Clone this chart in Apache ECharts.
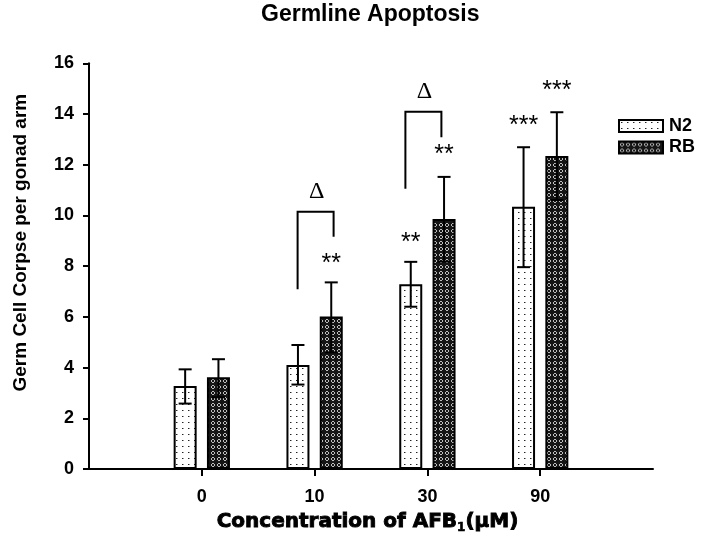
<!DOCTYPE html>
<html><head><meta charset="utf-8">
<script src="https://cdn.jsdelivr.net/npm/echarts@6/dist/echarts.min.js"></script>
<style>html,body{margin:0;padding:0;background:#fff}#c{width:705px;height:548px}</style>
</head><body><div id="c"></div>
<script>
// ---- data ----
const categories = ['0', '10', '30', '90'];
const seriesNames = ['N2', 'RB'];
const n2Values = [3.27, 4.10, 7.29, 10.34];
const rbValues = [3.62, 6.01, 9.86, 12.34];
const n2Low  = [2.58, 3.33, 6.40, 7.96];
const n2High = [3.93, 4.89, 8.17, 12.69];
const rbLow  = [2.83, 4.60, 8.18, 10.61];
const rbHigh = [4.33, 7.36, 11.52, 14.07];
const yTicks = [0, 2, 4, 6, 8, 10, 12, 14, 16];
// significance stars
const starCats   = ['10', '30', '30', '90', '90'];
const starSeries = ['RB', 'N2', 'RB', 'N2', 'RB'];
const starText   = ['**', '**', '**', '***', '***'];
const starY      = [8.31, 9.16, 12.62, 13.77, 15.15];
// delta brackets
const bracketCats     = ['10', '30'];
const bracketTop      = [10.15, 14.09];
const bracketLeftEnd  = [7.09, 11.05];
const bracketRightEnd = [9.16, 13.08];
const deltaY          = [10.94, 14.88];
const deltaText = 'Δ';

// ---- styling ----
const axisCats = [''].concat(categories).concat([' ']);
const BAR_W = 23, BAR_GAP_PX = 10.3;
const OFF = (BAR_W + BAR_GAP_PX) / 2;
const seriesOffset = { N2: -OFF, RB: OFF };
const bracketDx = [[-17, 19], [-22, 14]];

function makeDots() {
  const c = document.createElement('canvas'); c.width = 6; c.height = 6;
  const g = c.getContext('2d');
  g.fillStyle = '#fff'; g.fillRect(0, 0, 6, 6);
  g.fillStyle = '#222'; g.fillRect(2, 2, 1, 1);
  g.fillStyle = '#999'; g.fillRect(3, 2, 1, 1);
  return { image: c, repeat: 'repeat' };
}
function makeHatch() {
  const c = document.createElement('canvas'); c.width = 6; c.height = 6;
  const g = c.getContext('2d');
  g.fillStyle = '#151515'; g.fillRect(0, 0, 6, 6);
  g.fillStyle = '#bdbdbd';
  [[2,1],[3,1],[1,2],[4,2],[1,3],[4,3],[2,4],[3,4]].forEach(p => g.fillRect(p[0], p[1], 1, 1));
  return { image: c, repeat: 'repeat' };
}
const patterns = { N2: makeDots(), RB: makeHatch() };
const barValues = { N2: n2Values, RB: rbValues };
const lows = { N2: n2Low, RB: rbLow };
const highs = { N2: n2High, RB: rbHigh };

const FONT = '"Liberation Sans", Arial, Helvetica, sans-serif';
const LINE = { stroke: '#000', lineWidth: 2 };

function errRender(name) {
  return function (params, api) {
    const idx = api.value(0);
    const lo = api.coord([idx, api.value(1)]);
    const hi = api.coord([idx, api.value(2)]);
    const x = lo[0] + seriesOffset[name];
    const cap = 6.5;
    return { type: 'group', children: [
      { type: 'line', shape: { x1: x, y1: lo[1], x2: x, y2: hi[1] }, style: LINE },
      { type: 'line', shape: { x1: x - cap, y1: hi[1], x2: x + cap, y2: hi[1] }, style: LINE },
      { type: 'line', shape: { x1: x - cap, y1: lo[1], x2: x + cap, y2: lo[1] }, style: LINE }
    ]};
  };
}

const series = [];
seriesNames.forEach(name => {
  series.push({
    name: name, type: 'bar', barWidth: BAR_W, barGap: (BAR_GAP_PX / BAR_W * 100) + '%',
    data: categories.map((c, i) => [c, barValues[name][i]]),
    itemStyle: { color: patterns[name], borderColor: '#000', borderWidth: 2 },
    z: 2, silent: true
  });
});
seriesNames.forEach(name => {
  series.push({
    type: 'custom', name: name + ' err', z: 3, silent: true,
    renderItem: errRender(name),
    encode: { x: 0, y: [1, 2] },
    data: categories.map((c, i) => [c, lows[name][i], highs[name][i]])
  });
});
// stars
series.push({
  type: 'custom', z: 4, silent: true,
  encode: { x: 0, y: 1 },
  data: starCats.map((c, i) => [c, starY[i], i]),
  renderItem: function (params, api) {
    const i = api.value(2);
    const p = api.coord([api.value(0), api.value(1)]);
    return { type: 'text', style: {
      text: starText[i], x: p[0] + seriesOffset[starSeries[i]], y: p[1] + 6,
      align: 'center', verticalAlign: 'middle',
      fontSize: 25, fontFamily: FONT, fill: '#000' } };
  }
});
// brackets + delta
series.push({
  type: 'custom', z: 4, silent: true,
  encode: { x: 0, y: [1, 2, 3, 4] },
  data: bracketCats.map((c, i) => [c, bracketTop[i], bracketLeftEnd[i], bracketRightEnd[i], deltaY[i], i]),
  renderItem: function (params, api) {
    const i = api.value(5);
    const idx = api.value(0);
    const top = api.coord([idx, api.value(1)]);
    const le = api.coord([idx, api.value(2)]);
    const re = api.coord([idx, api.value(3)]);
    const dy = api.coord([idx, api.value(4)]);
    const xl = top[0] + bracketDx[i][0], xr = top[0] + bracketDx[i][1];
    return { type: 'group', children: [
      { type: 'polyline', shape: { points: [[xl, le[1]], [xl, top[1]], [xr, top[1]], [xr, re[1]]] },
        style: { stroke: '#000', lineWidth: 2, fill: null } },
      { type: 'text', style: { text: deltaText, x: (xl + xr) / 2 + 1, y: dy[1],
        align: 'center', verticalAlign: 'middle', fontSize: 24,
        fontFamily: '"Liberation Serif", "Times New Roman", serif', fill: '#000' } }
    ]};
  }
});

const chart = echarts.init(document.getElementById('c'), null, { renderer: 'canvas' });
chart.setOption({
  animation: false,
  backgroundColor: '#fff',
  title: {
    text: 'Germline Apoptosis', left: 261, top: 3, padding: 0,
    textStyle: { fontSize: 23, fontWeight: 'bold', fontFamily: FONT, color: '#000' }
  },
  legend: {
    data: seriesNames.map(n => ({ name: n, icon: 'rect' })),
    orient: 'vertical', left: 618, top: 117, padding: 0,
    itemWidth: 44, itemHeight: 12, itemGap: 3.5,
    textStyle: { fontSize: 18, fontWeight: 'bold', fontFamily: FONT, color: '#000', lineHeight: 18, padding: [0, 0, 0, 1] }
  },
  grid: { left: 89, right: 52, top: 63.3, bottom: 79, containLabel: false },
  xAxis: {
    type: 'category', data: axisCats, boundaryGap: false,
    axisLine: { lineStyle: { color: '#000', width: 2 } },
    axisTick: { length: 7, lineStyle: { color: '#000', width: 2 },
      interval: function (i, v) { return categories.indexOf(v) >= 0; } },
    axisLabel: { margin: 19, fontSize: 18, fontWeight: 'bold', fontFamily: FONT, color: '#000',
      interval: 0 },
    name: '{a|Concentration of AFB}{s|1}{a|(µM)}',
    nameLocation: 'middle', nameGap: 40,
    nameTextStyle: {
      padding: [0, 7, 0, 0],
      rich: {
        a: { fontSize: 20, fontWeight: 'bold', fontFamily: '"DejaVu Sans", sans-serif', color: '#000', lineHeight: 22, verticalAlign: 'bottom', textBorderColor: '#000', textBorderWidth: 0.9 },
        s: { fontSize: 12, fontWeight: 'bold', fontFamily: '"DejaVu Sans", sans-serif', color: '#000', lineHeight: 12, verticalAlign: 'bottom', padding: [0, 0, -3, 0], textBorderColor: '#000', textBorderWidth: 0.6 }
      }
    },
    splitLine: { show: false }
  },
  yAxis: {
    type: 'value', min: yTicks[0], max: yTicks[yTicks.length - 1], interval: yTicks[1] - yTicks[0],
    axisLine: { show: true, lineStyle: { color: '#000', width: 2 } },
    axisTick: { show: true, length: 6, lineStyle: { color: '#000', width: 2 } },
    axisLabel: { margin: 15, fontSize: 18, fontWeight: 'bold', fontFamily: FONT, color: '#000' },
    splitLine: { show: false },
    name: 'Germ Cell Corpse per gonad arm', nameLocation: 'middle', nameGap: 59,
    nameTextStyle: { fontSize: 19, fontWeight: 'bold', fontFamily: FONT, color: '#000', padding: [0, 0, 0, 47] }
  },
  series: series
});
</script></body></html>
